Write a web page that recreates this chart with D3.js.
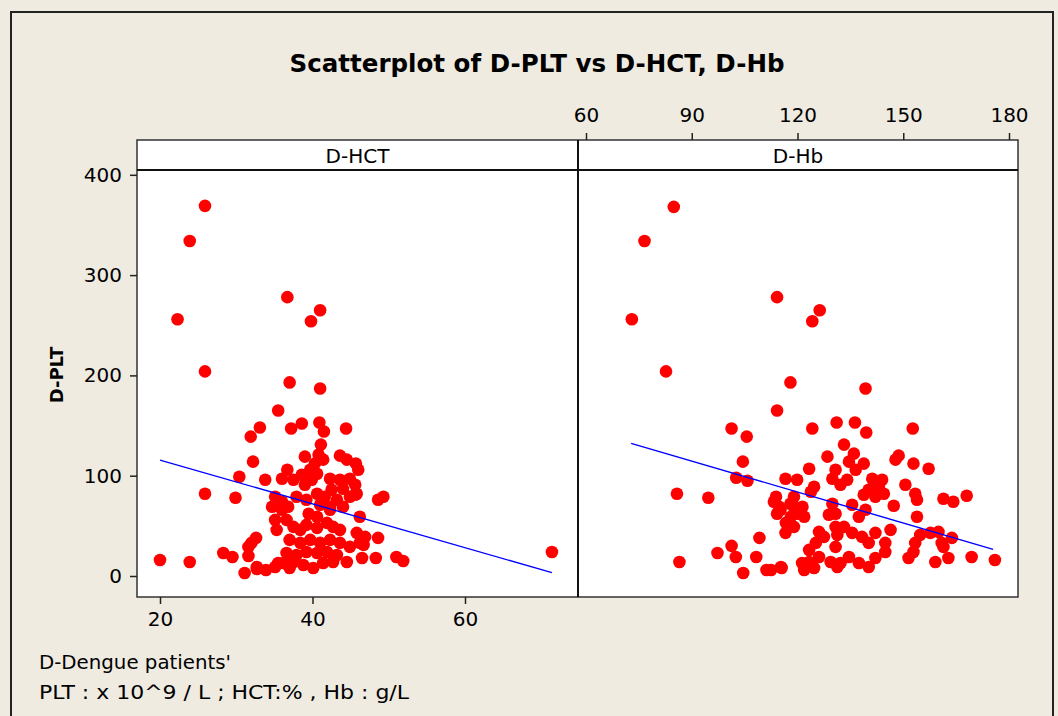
<!DOCTYPE html>
<html>
<head>
<meta charset="utf-8">
<script src="https://cdn.jsdelivr.net/npm/d3@7"></script>
<style>
  body { margin: 0; background: #efebe1; }
  svg text { font-family: "DejaVu Sans", sans-serif; fill: #000; }
</style>
</head>
<body>
<div id="chart"></div>
<script>
// D-HCT vs D-PLT points [HCT %, PLT x10^9/L]
const hctPoints = [
  [25.9,369],[23.9,334],[36.7,278],[41.0,265],[39.8,254],[22.3,256],[25.9,204],[37.0,193],[41.0,187],
  [35.5,165],[37.2,147],[38.6,152],[40.9,153],[41.5,144],[44.4,147],[33.1,148],[31.9,139],[32.2,114],
  [30.4,99],[33.8,96],[25.9,82],[29.9,78],[20.0,16],[23.9,14],[28.3,23],[29.5,19],[31.1,3],[31.6,20],
  [31.6,29],[32.6,38],[32.7,7],[33.9,6],[35.5,13],[37.0,8],[44.5,14],[41.1,131],[39.0,119],[40.8,121],
  [41.4,116],[43.6,120],[44.5,116],[45.7,112],[46.0,106],[36.7,106],[36.0,97],[37.5,96],[39.7,106],
  [40.3,112],[38.6,101],[39.0,91],[39.9,96],[40.6,102],[42.3,97],[43.6,96],[44.9,97],[45.6,91],
  [35.1,79],[36.0,74],[34.7,69],[36.0,66],[36.8,69],[37.9,79],[39.2,76],[40.6,82],[41.6,79],[42.5,86],
  [44.0,87],[43.2,76],[44.9,79],[45.8,82],[48.6,76],[49.3,79],[41.0,71],[42.3,69],[44.0,69],[39.5,62],
  [40.6,59],[42.3,66],[46.2,59],[35.1,56],[35.3,46],[36.6,56],[37.5,49],[38.4,46],[39.2,51],[40.6,48],
  [41.9,53],[42.7,49],[43.6,46],[45.8,43],[46.2,33],[46.9,39],[48.6,38],[32.0,33],[37.0,36],[38.4,33],
  [39.7,36],[41.0,33],[42.3,36],[43.6,33],[44.9,29],[36.6,23],[37.9,21],[39.2,24],[40.6,23],[41.9,24],
  [43.2,21],[36.2,13],[37.5,14],[38.8,11],[40.1,8],[41.4,13],[42.7,14],[46.5,18],[48.3,18],[51.0,19],
  [51.9,15],[32.7,9],[35.1,9],[45.6,81],[46.7,31],[71.4,24]
];

// D-Hb vs D-PLT points [Hb g/L, PLT x10^9/L]
const hbPoints = [
  [84.9,368],[76.6,334],[114.2,278],[73.0,256],[82.7,204],[118.0,193],[126.3,265],[124.2,254],[139.3,187],
  [114.2,165],[101.3,147],[105.6,139],[104.5,114],[102.6,98],[105.8,95],[116.6,97],[119.9,96],[85.8,82],
  [94.7,78],[113.3,74],[115.2,66],[114.2,62],[118.0,72],[119.0,79],[119.9,62],[119.0,49],[116.6,43],
  [109.2,38],[101.3,30],[102.5,19],[97.3,23],[108.3,19],[86.5,14],[104.6,3],[111.2,6],[115.5,8],[121.3,13],
  [124.2,147],[131.1,153],[136.3,153],[139.5,143],[152.7,147],[133.2,131],[128.5,119],[136.0,122],
  [134.6,114],[138.8,112],[148.7,120],[147.8,116],[152.9,112],[157.2,107],[123.3,107],[130.8,106],
  [129.9,97],[132.2,91],[134.1,96],[136.5,106],[141.2,97],[144.0,96],[143.1,89],[140.2,86],[138.8,81],
  [142.1,79],[144.5,82],[150.6,91],[153.4,82],[153.9,76],[161.4,77],[164.2,74],[168.0,80],[147.3,70],
  [124.7,89],[123.8,84],[113.9,79],[114.8,69],[119.0,69],[118.1,59],[121.4,69],[121.9,59],[129.9,72],
  [130.8,62],[128.9,61],[135.5,71],[139.3,66],[137.4,59],[153.9,59],[116.7,53],[126.1,44],[125.2,33],
  [127.5,39],[130.8,49],[133.2,49],[131.3,41],[135.5,43],[138.3,39],[142.1,43],[140.2,33],[144.9,33],
  [146.4,46],[130.8,29],[123.3,26],[126.1,19],[123.3,14],[129.4,14],[132.2,13],[134.6,19],[137.4,13],
  [140.2,9],[142.1,18],[144.9,24],[121.9,6],[124.7,8],[131.3,9],[115.3,9],[112.5,6],[153.4,33],[154.8,41],
  [152.9,24],[151.5,18],[157.7,43],[160.0,44],[160.9,33],[159.1,14],[162.8,18],[163.8,38],[161.4,29],
  [169.4,19],[176.0,16]
];

// fitted regression lines (end points)
const hctFit = [[20.0,115.6],[71.4,3.3]];
const hbFit = [[72.8,132.3],[175.5,26.6]];

const pltTicks = [0, 100, 200, 300, 400];
const hctTicks = [20, 40, 60];
const hbTicks = [60, 90, 120, 150, 180];
const panelNames = ["D-HCT", "D-Hb"];

const width = 1058, height = 716;
const plotTop = 170, plotBottom = 597, stripTop = 140;
const leftX0 = 137, midX = 578, rightX1 = 1018;

const svg = d3.select("#chart").append("svg")
    .attr("width", width)
    .attr("height", height);

svg.append("rect").attr("width", width).attr("height", height).attr("fill", "#efebe1");
// outer frame
svg.append("rect")
    .attr("x", 11).attr("y", 12)
    .attr("width", 1042).attr("height", 720)
    .attr("fill", "none").attr("stroke", "#222").attr("stroke-width", 2);

// scales
const y = d3.scaleLinear().domain([0, 400]).range([576, 174.8]);
const xHct = d3.scaleLinear().domain([20, 60]).range([160, 465]);
const xHb = d3.scaleLinear().domain([60, 180]).range([586, 1009]);

// panels
svg.append("rect")
    .attr("x", leftX0).attr("y", stripTop)
    .attr("width", rightX1 - leftX0).attr("height", plotBottom - stripTop)
    .attr("fill", "#fff").attr("stroke", "#333").attr("stroke-width", 1.5);
svg.append("line")
    .attr("x1", leftX0).attr("x2", rightX1).attr("y1", plotTop).attr("y2", plotTop)
    .attr("stroke", "#111").attr("stroke-width", 2);
svg.append("line")
    .attr("x1", midX).attr("x2", midX).attr("y1", stripTop).attr("y2", plotBottom)
    .attr("stroke", "#111").attr("stroke-width", 2);

// strip labels
svg.selectAll(".strip")
    .data(panelNames)
    .enter()
    .append("text")
    .attr("class", "strip")
    .attr("x", (d, i) => i === 0 ? (leftX0 + midX) / 2 : (midX + rightX1) / 2)
    .attr("y", 163)
    .attr("text-anchor", "middle")
    .style("font-size", "20px")
    .text(d => d);

// axes
const yAxis = svg.append("g")
    .attr("transform", `translate(${leftX0},0)`)
    .call(d3.axisLeft(y).tickValues(pltTicks).tickSize(7).tickPadding(8));
const hctAxis = svg.append("g")
    .attr("transform", `translate(0,${plotBottom})`)
    .call(d3.axisBottom(xHct).tickValues(hctTicks).tickSize(7).tickPadding(8));
const hbAxis = svg.append("g")
    .attr("transform", `translate(0,${stripTop})`)
    .call(d3.axisTop(xHb).tickValues(hbTicks).tickSize(7).tickPadding(11));

[yAxis, hctAxis, hbAxis].forEach(a => {
    a.select(".domain").remove();
    a.selectAll(".tick line").attr("stroke", "#222").attr("stroke-width", 1.5);
    a.selectAll("text")
        .style("font-family", "'DejaVu Sans', sans-serif")
        .style("font-size", "20px")
        .attr("fill", "#000");
});

// clip each panel
const defs = svg.append("defs");
defs.append("clipPath").attr("id", "clipL").append("rect")
    .attr("x", leftX0).attr("y", plotTop).attr("width", midX - leftX0).attr("height", plotBottom - plotTop);
defs.append("clipPath").attr("id", "clipR").append("rect")
    .attr("x", midX).attr("y", plotTop).attr("width", rightX1 - midX).attr("height", plotBottom - plotTop);

const line = (xs) => d3.line().x(d => xs(d[0])).y(d => y(d[1]));

const left = svg.append("g").attr("clip-path", "url(#clipL)");
left.selectAll("circle")
    .data(hctPoints)
    .enter()
    .append("circle")
    .attr("cx", d => xHct(d[0]))
    .attr("cy", d => y(d[1]))
    .attr("r", 6.3)
    .attr("fill", "#ff0000");
left.append("path")
    .datum(hctFit)
    .attr("d", line(xHct))
    .attr("fill", "none")
    .attr("stroke", "#0000ff")
    .attr("stroke-width", 1.4);

const right = svg.append("g").attr("clip-path", "url(#clipR)");
right.selectAll("circle")
    .data(hbPoints)
    .enter()
    .append("circle")
    .attr("cx", d => xHb(d[0]))
    .attr("cy", d => y(d[1]))
    .attr("r", 6.3)
    .attr("fill", "#ff0000");
right.append("path")
    .datum(hbFit)
    .attr("d", line(xHb))
    .attr("fill", "none")
    .attr("stroke", "#0000ff")
    .attr("stroke-width", 1.4);

// title
svg.append("text")
    .attr("x", 537)
    .attr("y", 72)
    .attr("text-anchor", "middle")
    .attr("textLength", 495)
    .attr("lengthAdjust", "spacingAndGlyphs")
    .style("font-size", "25px")
    .style("font-weight", "bold")
    .text("Scatterplot of D-PLT vs D-HCT, D-Hb");

// y label
svg.append("text")
    .attr("transform", "translate(63,375) rotate(-90)")
    .attr("text-anchor", "middle")
    .style("font-size", "18px")
    .style("font-weight", "bold")
    .text("D-PLT");

// footnote
svg.append("text").attr("x", 39).attr("y", 669)
    .attr("textLength", 192).attr("lengthAdjust", "spacingAndGlyphs")
    .style("font-size", "20px").text("D-Dengue patients'");
svg.append("text").attr("x", 39).attr("y", 699)
    .attr("textLength", 370).attr("lengthAdjust", "spacingAndGlyphs")
    .style("font-size", "20px").text("PLT : x 10^9 / L ; HCT:% , Hb : g/L");
</script>
</body>
</html>
